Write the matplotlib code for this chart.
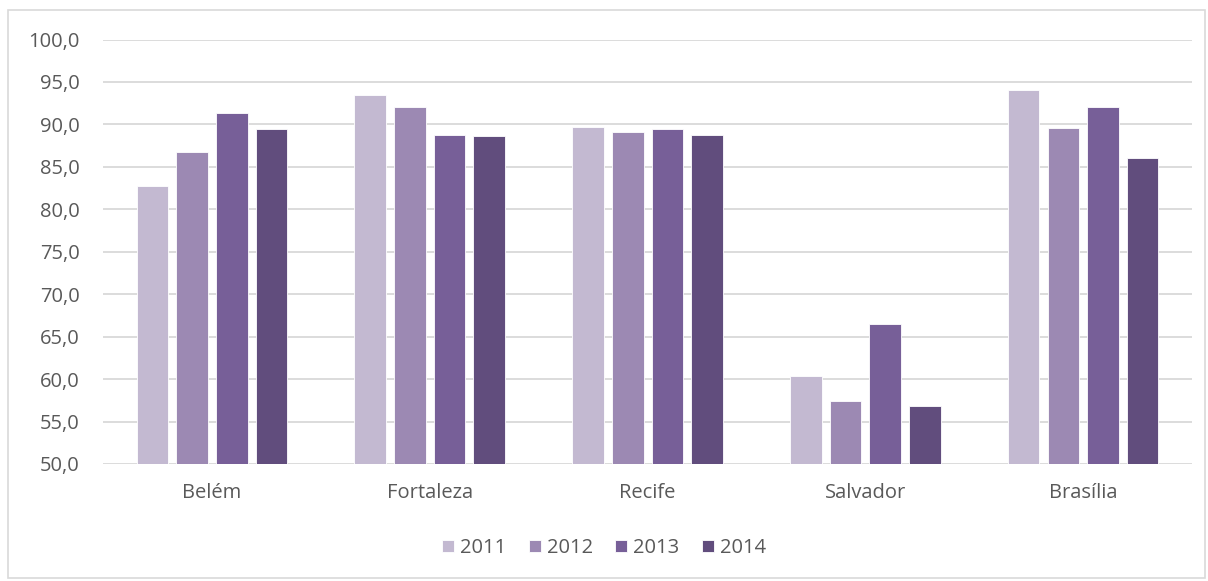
import numpy as np
import matplotlib.pyplot as plt
from matplotlib.patches import Rectangle

cidades = ['Belém', 'Fortaleza', 'Recife', 'Salvador', 'Brasília']
anos = ['2011', '2012', '2013', '2014']
v2011 = [82.7, 93.5, 89.7, 60.4, 94.0]
v2012 = [86.7, 92.0, 89.1, 57.4, 89.6]
v2013 = [91.4, 88.8, 89.5, 66.5, 92.0]
v2014 = [89.5, 88.6, 88.8, 56.8, 86.0]
cores = ['#C3B9D1', '#9C89B3', '#775F98', '#614D7D']

plt.rcParams['font.family'] = ['Open Sans', 'DejaVu Sans']

fig = plt.figure(figsize=(12.08, 5.81), dpi=100)
ax = fig.add_axes([0.0853, 0.2014, 0.9015, 0.7306])

# moldura externa
fig.patches.append(Rectangle((8 / 1208, 3 / 581), 1197 / 1208, 568 / 581,
                             transform=fig.transFigure, fill=False,
                             edgecolor='#D9D9D9', lw=1.2))

x = np.arange(len(cidades))
passo = 0.182
largura = 0.145
for i, (serie, cor) in enumerate(zip([v2011, v2012, v2013, v2014], cores)):
    pos = x + (i - 1.5) * passo
    ax.bar(pos, np.array(serie) - 50, bottom=50, width=largura, color=cor,
           edgecolor='white', linewidth=0.6, label=anos[i], zorder=3)

ax.set_ylim(50, 100)
ax.set_xlim(-0.5, len(cidades) - 0.5)
ax.set_yticks(np.arange(50, 100.1, 5))
ax.set_yticklabels([f'{v:.1f}'.replace('.', ',') for v in np.arange(50, 100.1, 5)])
ax.set_xticks(x)
ax.set_xticklabels(cidades)
ax.tick_params(axis='both', length=0, labelsize=14.5, colors='#595959')
ax.tick_params(axis='x', pad=14)
ax.tick_params(axis='y', pad=17)
ax.grid(axis='y', color='#D9D9D9', lw=1.3, zorder=0)
for s in ax.spines.values():
    s.set_visible(False)

leg = fig.legend(loc='center', bbox_to_anchor=(0.5, 1 - 548 / 581), ncol=4,
                 frameon=False, fontsize=14.5, handlelength=0.6, handleheight=0.6,
                 handletextpad=0.3, columnspacing=1.1)
for t in leg.get_texts():
    t.set_color('#595959')

fig.savefig('out.png', dpi=100)
